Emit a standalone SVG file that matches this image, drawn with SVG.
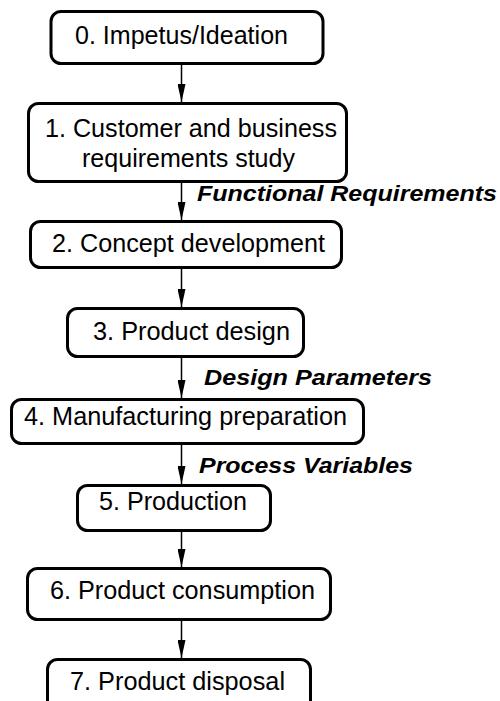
<svg xmlns="http://www.w3.org/2000/svg" width="500" height="701" viewBox="0 0 500 701">
<style>
.box{fill:#fff;stroke:#000;stroke-width:3}
.t{font-family:"Liberation Sans",Arial,sans-serif;font-size:25px;fill:#000}
.lbl{font-family:"Liberation Sans",Arial,sans-serif;font-size:22px;font-weight:bold;font-style:italic;fill:#000}
.c{stroke:#000;stroke-width:1.5;fill:none;marker-end:url(#ah)}
</style>
<defs>
<marker id="ah" viewBox="0 0 18 8" refX="18" refY="4" markerWidth="18" markerHeight="8" markerUnits="userSpaceOnUse" orient="auto">
<path d="M0,0 L18,4 L0,8 z" fill="#000"/>
</marker>
</defs>
<rect width="500" height="701" fill="#fff"/>
<g id="connectors">
<line class="c" x1="181.5" y1="65" x2="181.5" y2="102"/>
<line class="c" x1="181.5" y1="183" x2="181.5" y2="220"/>
<line class="c" x1="181.5" y1="269" x2="181.5" y2="307"/>
<line class="c" x1="181.5" y1="358" x2="181.5" y2="398"/>
<line class="c" x1="181.5" y1="445" x2="181.5" y2="484"/>
<line class="c" x1="181.5" y1="532" x2="181.5" y2="567"/>
<line class="c" x1="181.5" y1="621" x2="181.5" y2="658"/>
<text class="lbl" x="197" y="201" textLength="300" lengthAdjust="spacingAndGlyphs">Functional Requirements</text>
<text class="lbl" x="204" y="385" textLength="228" lengthAdjust="spacingAndGlyphs">Design Parameters</text>
<text class="lbl" x="199" y="473" textLength="214" lengthAdjust="spacingAndGlyphs">Process Variables</text>
</g>
<g id="n0"><rect class="box" x="51" y="11.5" width="272" height="52" rx="10"/><text class="t" x="75" y="44" textLength="213" lengthAdjust="spacingAndGlyphs">0. Impetus/Ideation</text></g>
<g id="n1"><rect class="box" x="28.5" y="103.5" width="318" height="78" rx="10"/><text class="t" x="45" y="137" textLength="292" lengthAdjust="spacingAndGlyphs">1. Customer and business</text><text class="t" x="82" y="167" textLength="213" lengthAdjust="spacingAndGlyphs">requirements study</text></g>
<g id="n2"><rect class="box" x="30.5" y="221.5" width="311" height="46" rx="10"/><text class="t" x="52" y="252" textLength="273" lengthAdjust="spacingAndGlyphs">2. Concept development</text></g>
<g id="n3"><rect class="box" x="67.5" y="308.5" width="236" height="48" rx="10"/><text class="t" x="93" y="340" textLength="197" lengthAdjust="spacingAndGlyphs">3. Product design</text></g>
<g id="n4"><rect class="box" x="11.5" y="399.5" width="352" height="44" rx="10"/><text class="t" x="24" y="425" textLength="323" lengthAdjust="spacingAndGlyphs">4. Manufacturing preparation</text></g>
<g id="n5"><rect class="box" x="77.5" y="485.5" width="193" height="45" rx="10"/><text class="t" x="99" y="510" textLength="148" lengthAdjust="spacingAndGlyphs">5. Production</text></g>
<g id="n6"><rect class="box" x="27.5" y="568.5" width="303" height="51" rx="10"/><text class="t" x="50" y="599" textLength="265" lengthAdjust="spacingAndGlyphs">6. Product consumption</text></g>
<g id="n7"><rect class="box" x="47.5" y="659.5" width="263" height="60" rx="10"/><text class="t" x="70" y="690" textLength="215" lengthAdjust="spacingAndGlyphs">7. Product disposal</text></g>
</svg>
